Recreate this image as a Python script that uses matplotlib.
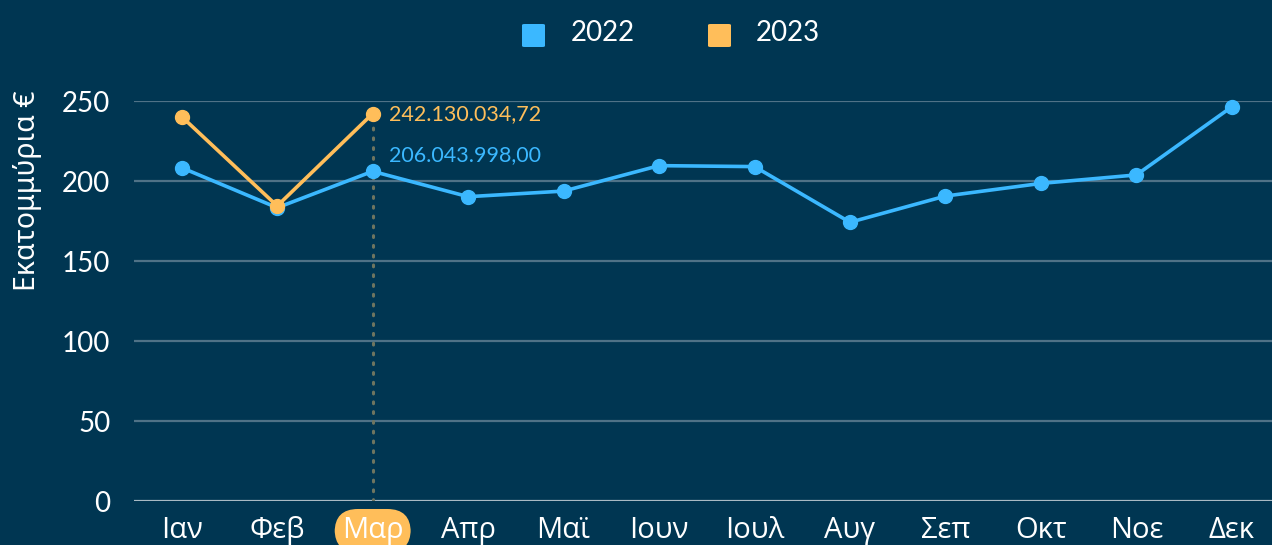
import matplotlib
matplotlib.use("Agg")
import matplotlib.pyplot as plt
from matplotlib.patches import FancyBboxPatch

months = ["Ιαν", "Φεβ", "Μαρ", "Απρ", "Μαϊ", "Ιουν", "Ιουλ", "Αυγ", "Σεπ", "Οκτ", "Νοε", "Δεκ"]
values_2022 = [208.3, 183.3, 206.043998, 190.2, 193.7, 209.6, 209.0, 174.2, 190.6, 198.5, 203.8, 246.4]
values_2023 = [240.2, 184.4, 242.13003472]
yticks = [0, 50, 100, 150, 200, 250]
series_names = ["2022", "2023"]
label_2022 = "206.043.998,00"
label_2023 = "242.130.034,72"
highlight_idx = 2

BG = "#003652"
BLUE = "#3BB8FF"
ORANGE = "#FFBE5A"
GRID = "#4F7287"
BASE = "#A9BAC4"

W, H = 1272, 545
fig = plt.figure(figsize=(W / 100, H / 100), dpi=100, facecolor=BG)
ax = fig.add_axes([134 / W, 44 / H, (W - 134) / W, 400 / H], facecolor=BG)

num_font = ["Lato", "DejaVu Sans"]
greek_font = ["Open Sans", "DejaVu Sans"]

x = list(range(len(months)))
ax.set_xlim(-0.5, 11.42)
ax.set_ylim(0, 250)

for yv in yticks[1:]:
    ax.axhline(yv, color=GRID, lw=1.6, zorder=1)
ax.axhline(0, color=BASE, lw=1.6, zorder=1)

# vertical dotted indicator at highlighted month
ax.plot([highlight_idx, highlight_idx], [0, values_2023[highlight_idx]], color="#6E7560",
        lw=2.2, ls=(0, (0.6, 2.6)), dash_capstyle="round", zorder=2)

ax.plot(x, values_2022, color=BLUE, lw=2.6, marker="o", ms=10, zorder=3, clip_on=False)
ax.plot(x[:len(values_2023)], values_2023, color=ORANGE, lw=2.6, marker="o", ms=10, zorder=4, clip_on=False)

ax.annotate(label_2023, (highlight_idx, values_2023[highlight_idx]), xytext=(12, -0.5),
            textcoords="offset points", color=ORANGE, fontsize=15.5, va="center", ha="left",
            family=num_font)
ax.annotate(label_2022, (highlight_idx, values_2022[highlight_idx]), xytext=(12, 11.5),
            textcoords="offset points", color=BLUE, fontsize=15.5, va="center", ha="left",
            family=num_font)

for s in ax.spines.values():
    s.set_visible(False)

ax.set_yticks(yticks)
ax.set_yticklabels([str(v) for v in yticks], family=num_font, fontsize=20, color="white")
ax.set_xticks(x)
ax.set_xticklabels(months, family=greek_font, fontsize=21, color="white")
ax.tick_params(axis="both", length=0)
ax.tick_params(axis="y", pad=17)
ax.tick_params(axis="x", pad=11)

lbl = ax.get_xticklabels()[highlight_idx]
lbl.set_bbox(dict(boxstyle="round,pad=0.25,rounding_size=0.8", fc=ORANGE, ec="none"))

fig.text(28 / W, 1 - 191 / H, "Εκατομμύρια €", rotation=90, color="white", fontsize=20.5,
         family=["Noto Sans", "DejaVu Sans"], ha="center", va="center")

# legend drawn manually in figure pixels
leg_sq_x = [522, 708]
leg_txt_x = [571, 756]
colors = [BLUE, ORANGE]
for sx, tx, c, name in zip(leg_sq_x, leg_txt_x, colors, series_names):
    p = FancyBboxPatch((sx / W, 1 - 47 / H), 23 / W, 23 / H,
                       boxstyle="round,pad=0,rounding_size=0.002", transform=fig.transFigure,
                       fc=c, ec="none")
    fig.patches.append(p)
    fig.text(tx / W, 1 - 33 / H, name, color="white", fontsize=20, family=num_font,
             ha="left", va="center")

fig.savefig("out.png", dpi=100, facecolor=BG)
